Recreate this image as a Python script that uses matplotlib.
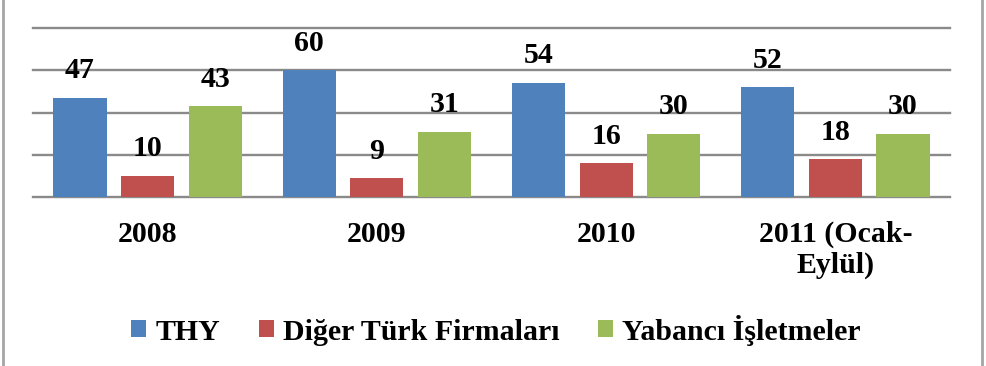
import matplotlib
matplotlib.use("Agg")
import matplotlib.pyplot as plt
import numpy as np
from matplotlib.lines import Line2D
from matplotlib.patches import Patch

categories = ["2008", "2009", "2010", "2011 (Ocak-\nEylül)"]
series_names = ["THY", "Diğer Türk Firmaları", "Yabancı İşletmeler"]
thy = [47, 60, 54, 52]
diger = [10, 9, 16, 18]
yabanci = [43, 31, 30, 30]
colors = ["#4F81BD", "#C0504D", "#9BBB59"]

plt.rcParams["font.family"] = ["Liberation Serif", "DejaVu Serif"]
plt.rcParams["font.weight"] = "bold"
FS = 21.5

fig = plt.figure(figsize=(9.86, 3.66), dpi=100)
ax = fig.add_axes([33 / 986, 1 - 197 / 366, (950 - 33) / 986, (197 - 28) / 366])

x = np.arange(len(categories))
width = 0.232
step = 0.295
for i, (vals, name) in enumerate(zip([thy, diger, yabanci], series_names)):
    pos = x + (i - 1) * step
    bars = ax.bar(pos, vals, width=width, color=colors[i], label=name, zorder=3)
    for b, v in zip(bars, vals):
        ax.annotate(str(v), (b.get_x() + b.get_width() / 2, v),
                    xytext=(0, 14), textcoords="offset points",
                    ha="center", va="baseline", fontsize=FS, fontweight="bold")

ax.set_xlim(-0.5, 3.5)
ax.set_ylim(0, 80)
ax.set_yticks([0, 20, 40, 60, 80])
ax.set_yticklabels([])
ax.yaxis.grid(True, color="#8a8a8a", linewidth=1.7, zorder=0)
for gl in ax.get_ygridlines():
    gl.set_clip_on(False)
ax.tick_params(axis="both", length=0)
ax.set_xticks(x)
ax.set_xticklabels(categories, fontsize=FS, fontweight="bold", linespacing=1.2)
ax.tick_params(axis="x", pad=17)
for s in ax.spines.values():
    s.set_visible(False)

handles = [Patch(facecolor=c, edgecolor="none") for c in colors]
fig.legend(handles, series_names, loc="center", bbox_to_anchor=(0.503, 1 - 330 / 366),
           ncol=3, frameon=False, fontsize=FS, handlelength=0.5, handleheight=0.5,
           handletextpad=0.3, columnspacing=1.3)

# outer frame lines
fig.add_artist(Line2D([3 / 986, 3 / 986], [0, 1], transform=fig.transFigure,
                      color="#a6a6a6", linewidth=2))
fig.add_artist(Line2D([982 / 986, 982 / 986], [0, 1], transform=fig.transFigure,
                      color="#a6a6a6", linewidth=2))

fig.savefig("out.png", dpi=100)
